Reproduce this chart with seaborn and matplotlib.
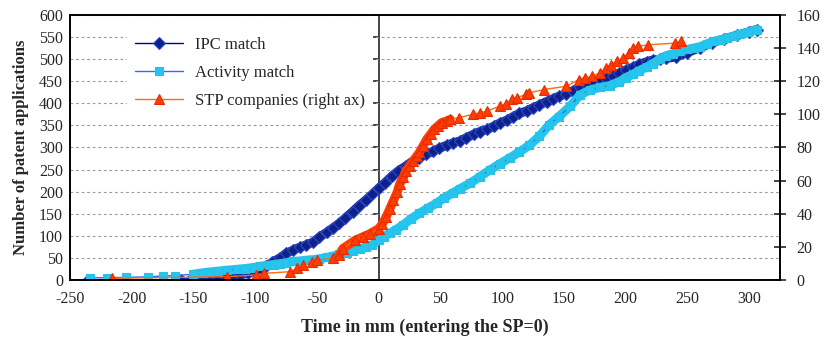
import numpy as np
import pandas as pd
import matplotlib
matplotlib.use("Agg")
import matplotlib.pyplot as plt
import seaborn as sns

# --- data (time in months, cumulative counts) ---
ipc_x = [-235, -160, -153, -147, -142, -136, -130, -124, -118, -112, -106, -101,
         -96, -91, -86, -80, -75, -69, -64, -59, -53, -48, -42, -37, -32, -27,
         -21, -16, -10, -5, 0, 5, 11, 16, 22, 27, 33, 38, 44, 49, 55, 60, 66,
         71, 77, 82, 88, 93, 98, 104, 109, 114, 120, 125, 130, 136, 141, 146,
         152, 157, 163, 168, 174, 179, 184, 190, 195, 200, 206, 211, 217, 222,
         228, 233, 241, 250, 260, 270, 280, 290, 300, 306]
ipc_y = [0, 0, 0, 1, 2, 3, 5, 7, 9, 12, 15, 20,
         26, 32, 40, 50, 60, 68, 74, 79, 86, 97, 108, 118, 128, 140,
         155, 168, 182, 194, 208, 220, 236, 247, 258, 268, 277, 285, 291, 298, 305, 310, 315,
         322, 330, 336, 341, 348, 355, 362, 370, 377, 383, 390, 396, 404, 410, 416,
         422, 428, 436, 443, 448, 454, 458, 463, 468, 475, 482, 488, 494, 498,
         500, 502, 505, 515, 526, 537, 546, 554, 562, 567]

act_x = [-234, -220, -205, -187, -175, -165, -150, -143, -137, -130, -123, -115,
         -108, -102, -96, -90, -85, -80, -75, -69, -64, -58, -53, -48, -42, -37,
         -32, -26, -21, -15, -10, -5, 0, 4, 9, 14, 20, 26, 33, 40, 47, 53, 60,
         66, 74, 82, 90, 98, 106, 114, 122, 130, 138, 146, 155, 163, 171, 179,
         187, 195, 200, 206, 211, 217, 222, 228, 233, 238, 244, 250, 255, 260,
         266, 271, 277, 282, 288, 293, 299, 306]
act_y = [5, 5, 6, 7, 9, 10, 13, 16, 18, 20, 22, 24,
         26, 28, 31, 33, 35, 37, 39, 42, 43, 45, 46, 48, 51, 54,
         58, 62, 66, 70, 74, 80, 90, 98, 106, 114, 125, 138, 151, 163, 174, 186, 197,
         207, 219, 234, 249, 263, 276, 290, 305, 325, 351, 370, 393, 419, 430, 436,
         440, 449, 458, 466, 474, 482, 490, 500, 508, 512, 518, 522, 525, 528,
         535, 540, 544, 548, 552, 556, 561, 567]

stp_x = [-216, -123, -99, -93, -72, -66, -61, -54, -50, -37, -32, -29, -19, -13,
         -7, 0, 3, 6, 9, 12, 15, 17, 20, 22, 25, 28, 31, 33, 36, 39, 42, 45,
         48, 51, 55, 58, 65, 76, 82, 88, 98, 103, 108, 112, 119, 122, 134, 152,
         162, 167, 173, 179, 184, 188, 193, 198, 203, 206, 210, 218, 240, 245]
stp_y = [1, 2, 3, 4, 5, 7, 9, 11, 12, 13, 15, 19, 24, 26,
         28, 31, 34, 38, 43, 48, 53, 58, 62, 66, 69, 72, 75, 77, 81, 85, 88, 91,
         93, 95, 96, 97, 98, 100, 101, 102, 105, 106, 109, 110, 112, 113, 115, 117,
         121, 122, 123, 125, 128, 130, 132, 134, 137, 140, 141, 142, 143, 144]

x_ticks = list(range(-250, 301, 50))
left_ticks = list(range(0, 601, 50))
right_ticks = list(range(0, 161, 20))

ipc = pd.DataFrame({"t": ipc_x, "n": ipc_y})
act = pd.DataFrame({"t": act_x, "n": act_y})
stp = pd.DataFrame({"t": stp_x, "n": stp_y})

sns.set_style("white")
plt.rcParams["font.family"] = ["Liberation Serif", "DejaVu Serif"]
plt.rcParams["axes.unicode_minus"] = False

fig = plt.figure(figsize=(8.31, 3.40), dpi=100)
ax = fig.add_axes([0.0842, 0.1765, 0.8544, 0.7794])
ax2 = ax.twinx()

band = dict(estimator=None, sort=False, linewidth=6.5, solid_capstyle="round",
            legend=False)

# IPC match: dense stretch drawn as a band, then the diamonds
sns.lineplot(data=ipc[ipc.t >= -118], x="t", y="n", ax=ax, color="#13208c", **band)
sns.lineplot(data=ipc, x="t", y="n", ax=ax, estimator=None, sort=False,
             color="#000080", linewidth=1.0, marker="D", markersize=6,
             markerfacecolor="#10208a", markeredgecolor="#2a48c8",
             markeredgewidth=0.8, label="IPC match")

# Activity match
sns.lineplot(data=act[act.t >= -150], x="t", y="n", ax=ax, color="#22c6f0", **band)
sns.lineplot(data=act, x="t", y="n", ax=ax, estimator=None, sort=False,
             color="#3366ff", linewidth=1.0, marker="s", markersize=5.6,
             markerfacecolor="#22c6f0", markeredgecolor="#2cbfe0",
             markeredgewidth=0.8, label="Activity match")

# STP companies on the right axis
sns.lineplot(data=stp[(stp.t >= -33) & (stp.t <= 58)], x="t", y="n", ax=ax2,
             color="#ff3d00", **band)
sns.lineplot(data=stp, x="t", y="n", ax=ax2, estimator=None, sort=False,
             color="#ff6a10", linewidth=1.0, marker="^", markersize=7,
             markerfacecolor="#ff3d00", markeredgecolor="#e82a00",
             markeredgewidth=0.8, label="STP companies (right ax)")

for a in (ax, ax2):
    if a.get_legend() is not None:
        a.get_legend().remove()

ax.set_xlim(-250, 325)
ax.set_ylim(0, 600)
ax2.set_ylim(0, 160)
ax.set_xticks(x_ticks)
ax.set_yticks(left_ticks)
ax2.set_yticks(right_ticks)

ax.yaxis.grid(True, color="#9a9a9a", linestyle=(0, (2.5, 2.5)), linewidth=0.8)
ax.xaxis.grid(False)
ax.set_axisbelow(True)

for a in (ax, ax2):
    for s in a.spines.values():
        s.set_color("black")
        s.set_linewidth(1.2)

ax.tick_params(axis="y", length=0, pad=5, labelsize=11.5)
ax.tick_params(axis="x", length=0, pad=8, labelsize=11.5)
ax2.tick_params(axis="y", direction="inout", length=8, width=1.2, pad=8,
                labelsize=11.5, right=True)

# vertical axis line at x = 0 with its own ticks
zero_ax = ax.secondary_yaxis(250 / 575)
zero_ax.set_yticks(left_ticks)
zero_ax.tick_params(axis="y", direction="out", length=4.5, width=1.2,
                    labelleft=False)
zero_ax.spines["left"].set_linewidth(1.2)

ax.set_xlabel("Time in mm (entering the SP=0)", fontsize=13,
              fontweight="bold", labelpad=8)
ax.set_ylabel("Number of patent applications", fontsize=12,
              fontweight="bold", labelpad=7)
ax2.set_ylabel("")

h1, l1 = ax.get_legend_handles_labels()
h2, l2 = ax2.get_legend_handles_labels()
leg = ax2.legend(h1 + h2, l1 + l2, loc="upper left",
                 bbox_to_anchor=(0.08, 0.95), borderaxespad=0,
                 frameon=True, facecolor="white", edgecolor="none",
                 framealpha=1, fancybox=False, fontsize=12,
                 handlelength=2.9, handletextpad=0.7, labelspacing=0.72,
                 borderpad=0.5)

fig.savefig("out.png", dpi=100)
